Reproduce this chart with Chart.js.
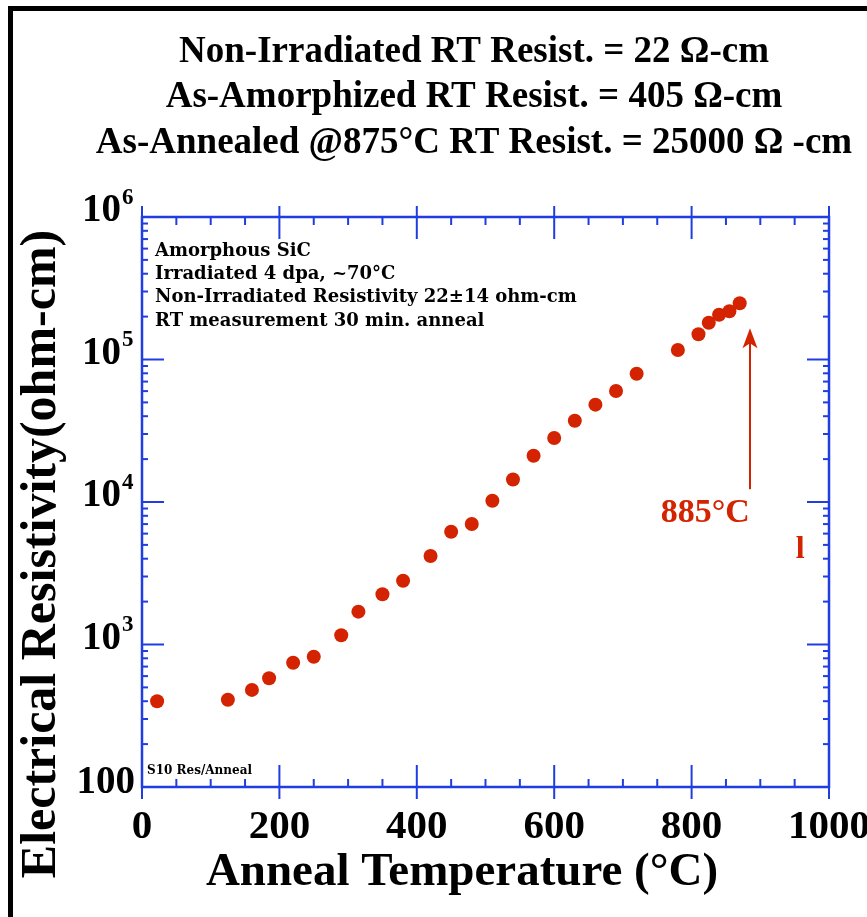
<!DOCTYPE html>
<html>
<head>
<meta charset="utf-8">
<script src="https://cdn.jsdelivr.net/npm/chart.js@4.4.1/dist/chart.umd.min.js"></script>
<style>
  body { margin: 0; background: #fff; }
  canvas { display: block; }
</style>
</head>
<body>
<canvas id="chart" width="867" height="917"></canvas>
<script>
// anneal temperature (°C) and room-temperature resistivity (ohm-cm)
let annealTemps = [22, 125, 160, 185, 220, 250, 290, 315, 350, 380, 420, 450, 480, 510,
  540, 570, 600, 630, 660, 690, 720, 780, 810, 825, 840, 855, 870];
let resistivity = [400, 410, 480, 580, 745, 820, 1160, 1700, 2250, 2800, 4180, 6190, 7010, 10200,
  14400, 21100, 28100, 37200, 48200, 60100, 79500, 116600, 150300, 181200, 206100, 217900, 247900];

let xTickValues = [0, 200, 400, 600, 800, 1000];
let yTickValues = [100, 1000, 10000, 100000, 1000000];
let yTickLabels = ["100", "10^3", "10^4", "10^5", "10^6"];

let titleLines = [
  "Non-Irradiated RT Resist. = 22 Ω-cm",
  "As-Amorphized RT Resist. = 405 Ω-cm",
  "As-Annealed @875°C RT Resist. = 25000 Ω -cm"
];
let noteLines = [
  "Amorphous SiC",
  "Irradiated 4 dpa, ~70°C",
  "Non-Irradiated Resistivity 22±14 ohm-cm",
  "RT measurement 30 min. anneal"
];

// arrow marking the final anneal temperature
let arrowTemp = 885;
let arrowFrom = 12300;
let arrowTo = 166000;

const RED = "#d42300";
const BLUE = "#1f3de0";
const SERIF = "'Liberation Serif', 'Times New Roman', serif";

function line(ctx, x1, y1, x2, y2) {
  ctx.beginPath();
  ctx.moveTo(x1, y1);
  ctx.lineTo(x2, y2);
  ctx.stroke();
}

const framePlugin = {
  id: "frame",
  beforeDraw(chart) {
    const ctx = chart.ctx;
    ctx.save();
    ctx.fillStyle = "#fff";
    ctx.fillRect(0, 0, chart.width, chart.height);
    ctx.fillStyle = "#000";
    ctx.fillRect(8, 6, 5, chart.height);
    ctx.fillRect(8, 6, chart.width, 5);

    ctx.textAlign = "center";
    ctx.textBaseline = "middle";
    ctx.font = "bold 37px " + SERIF;
    titleLines.forEach((t, i) => ctx.fillText(t, 474, 52 + i * 45.5));
    ctx.restore();
  },
  beforeDatasetsDraw(chart) {
    const ctx = chart.ctx;
    const a = chart.chartArea;
    const xs = chart.scales.x;
    const ys = chart.scales.y;
    ctx.save();
    ctx.strokeStyle = BLUE;
    ctx.lineWidth = 2.5;
    ctx.strokeRect(a.left, a.top, a.right - a.left, a.bottom - a.top);

    // x ticks, bottom and top
    ctx.lineWidth = 2;
    for (let v = 50; v < 1000; v += 50) {
      if (v % 200 === 0) continue;
      const px = xs.getPixelForValue(v);
      line(ctx, px, a.bottom, px, a.bottom - 8);
      line(ctx, px, a.top, px, a.top + 8);
    }
    xTickValues.forEach(v => {
      const px = xs.getPixelForValue(v);
      line(ctx, px, a.bottom + 12, px, a.bottom - 22);
      line(ctx, px, a.top - 11, px, a.top + 22);
    });

    // y ticks, left and right
    for (let d = 100; d < 1000000; d *= 10) {
      for (let m = 2; m <= 9; m++) {
        const py = ys.getPixelForValue(d * m);
        line(ctx, a.left, py, a.left + 6, py);
        line(ctx, a.right, py, a.right - 6, py);
      }
    }
    yTickValues.forEach(v => {
      const py = ys.getPixelForValue(v);
      line(ctx, a.left, py, a.left + 22, py);
      line(ctx, a.right, py, a.right - 22, py);
    });

    // tick labels
    ctx.fillStyle = "#000";
    ctx.textBaseline = "middle";
    ctx.textAlign = "center";
    ctx.font = "bold 41px " + SERIF;
    xTickValues.forEach(v => ctx.fillText(String(v), xs.getPixelForValue(v), 827));

    yTickValues.forEach((v, i) => {
      const py = ys.getPixelForValue(v);
      const parts = yTickLabels[i].split("^");
      ctx.font = "bold 39px " + SERIF;
      if (parts.length === 1) {
        ctx.textAlign = "right";
        ctx.fillText(parts[0], 135, py - 4);
      } else {
        ctx.textAlign = "right";
        ctx.fillText(parts[0], 121, py - 6);
        ctx.textAlign = "left";
        ctx.font = "bold 23px " + SERIF;
        ctx.fillText(parts[1], 122, py - 19);
      }
    });

    // axis titles
    ctx.textAlign = "center";
    ctx.font = "bold 47px " + SERIF;
    ctx.fillText("Anneal Temperature (°C)", 462, 873);
    ctx.save();
    ctx.translate(42, 554);
    ctx.rotate(-Math.PI / 2);
    ctx.font = "bold 50px " + SERIF;
    ctx.fillText("Electrical Resistivity(ohm-cm)", 0, 0);
    ctx.restore();

    // notes inside the plot
    ctx.textAlign = "left";
    ctx.font = "bold 18px 'DejaVu Serif', serif";
    noteLines.forEach((t, i) => ctx.fillText(t, a.left + 13, 251 + i * 23.3));
    ctx.font = "bold 12px 'DejaVu Serif', serif";
    ctx.fillText("S10 Res/Anneal", a.left + 5, 771);

    // red arrow and label
    const ax = xs.getPixelForValue(arrowTemp);
    const yTop = ys.getPixelForValue(arrowTo);
    const yBot = ys.getPixelForValue(arrowFrom);
    ctx.strokeStyle = RED;
    ctx.fillStyle = RED;
    ctx.lineWidth = 2;
    line(ctx, ax, yBot, ax, yTop + 14);
    ctx.beginPath();
    ctx.moveTo(ax, yTop);
    ctx.lineTo(ax + 7.5, yTop + 20);
    ctx.lineTo(ax, yTop + 15);
    ctx.lineTo(ax - 7.5, yTop + 20);
    ctx.closePath();
    ctx.fill();

    ctx.textAlign = "center";
    ctx.font = "bold 34px " + SERIF;
    ctx.fillText("885°C", xs.getPixelForValue(820), ys.getPixelForValue(8370));
    ctx.font = "bold 32px " + SERIF;
    ctx.fillText("l", xs.getPixelForValue(958), ys.getPixelForValue(4600));
    ctx.restore();
  }
};

let points = annealTemps.map((t, i) => ({ x: t, y: resistivity[i] }));

new Chart(document.getElementById("chart").getContext("2d"), {
  type: "scatter",
  data: {
    datasets: [{
      data: points,
      backgroundColor: RED,
      borderWidth: 0,
      pointRadius: 7,
      pointHoverRadius: 7
    }]
  },
  options: {
    responsive: false,
    animation: false,
    layout: { padding: { left: 142, right: 38, top: 217, bottom: 130 } },
    plugins: { legend: { display: false }, tooltip: { enabled: false } },
    scales: {
      x: { type: "linear", min: 0, max: 1000, display: false },
      y: { type: "logarithmic", min: 100, max: 1000000, display: false }
    }
  },
  plugins: [framePlugin]
});
</script>
</body>
</html>
